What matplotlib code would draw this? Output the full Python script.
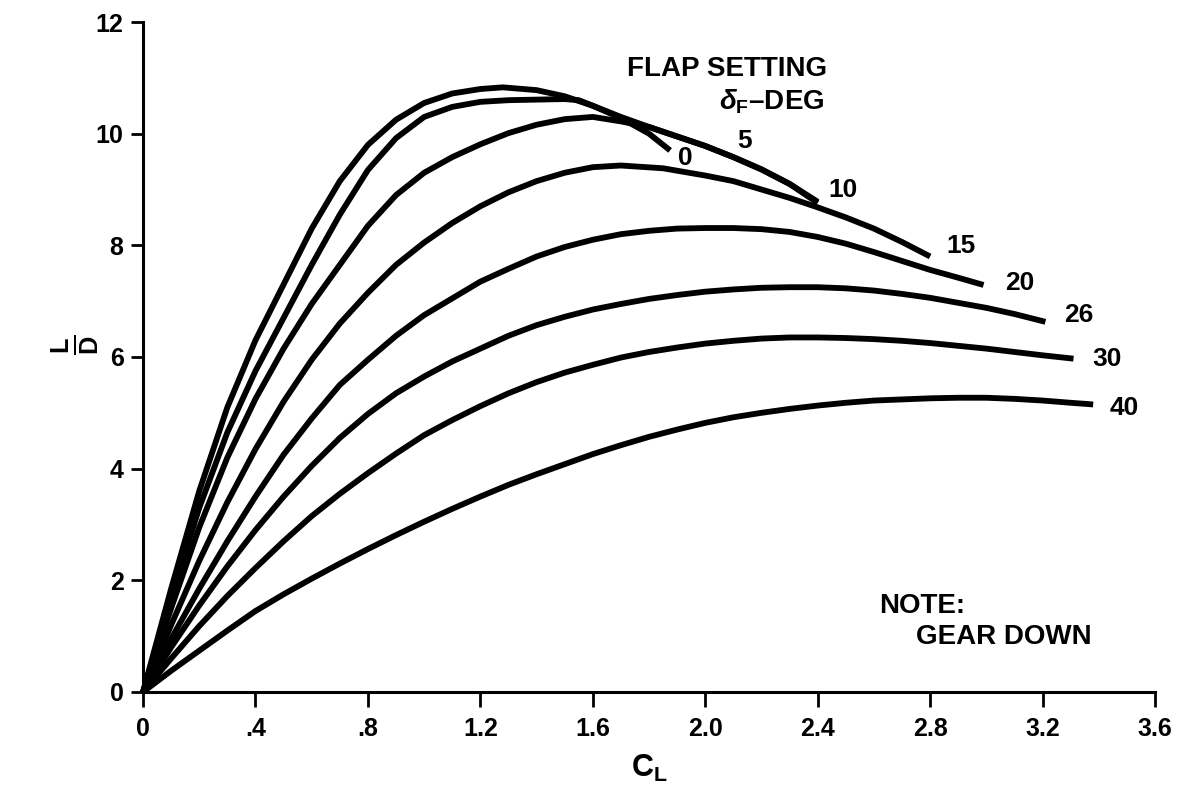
import matplotlib
matplotlib.use("Agg")
import matplotlib.pyplot as plt

plt.rcParams["font.family"] = ["Liberation Sans", "DejaVu Sans"]
plt.rcParams["font.weight"] = "bold"
plt.rcParams["mathtext.fontset"] = "custom"
plt.rcParams["mathtext.rm"] = "Liberation Sans:bold"
plt.rcParams["mathtext.it"] = "Liberation Sans:bold:italic"
plt.rcParams["mathtext.bf"] = "Liberation Sans:bold"

# L/D vs C_L, one curve per flap setting (deg)
cl_0 = [0, .1, .2, .3, .4, .5, .6, .7, .8, .9, 1.0, 1.1, 1.2, 1.28, 1.4, 1.5, 1.6, 1.7, 1.8, 1.875]
ld_0 = [0, 1.85, 3.6, 5.1, 6.3, 7.3, 8.3, 9.15, 9.8, 10.25, 10.55, 10.72, 10.8, 10.83, 10.78, 10.67, 10.5,
        10.28, 10.0, 9.7]

cl_5 = [0, .1, .2, .3, .4, .5, .6, .7, .8, .9, 1.0, 1.1, 1.2, 1.3, 1.4, 1.5, 1.55, 1.6, 1.7, 1.8,
        1.9, 2.0, 2.1, 2.2, 2.3, 2.4]
ld_5 = [0, 1.7, 3.3, 4.65, 5.75, 6.7, 7.65, 8.55, 9.35, 9.92, 10.3, 10.48, 10.57, 10.6, 10.61, 10.62, 10.6,
        10.5, 10.3, 10.12, 9.95, 9.78, 9.58, 9.36, 9.1, 8.78]

cl_10 = [0, .1, .2, .3, .4, .5, .6, .7, .8, .9, 1.0, 1.1, 1.2, 1.3, 1.4, 1.5, 1.6, 1.7, 1.8,
         1.9, 2.0, 2.1, 2.2, 2.3, 2.4]
ld_10 = [0, 1.5, 2.95, 4.2, 5.25, 6.15, 6.95, 7.65, 8.35, 8.9, 9.3, 9.58, 9.81, 10.01, 10.16, 10.26, 10.3,
         10.22, 10.12, 9.95, 9.78, 9.58, 9.36, 9.1, 8.76]

cl_15 = [0, .1, .2, .3, .4, .5, .6, .7, .8, .9, 1.0, 1.1, 1.2, 1.3, 1.4, 1.5, 1.6, 1.7, 1.85, 2.0,
         2.1, 2.2, 2.3, 2.4, 2.5, 2.6, 2.7, 2.8]
ld_15 = [0, 1.2, 2.35, 3.4, 4.35, 5.2, 5.95, 6.6, 7.15, 7.65, 8.05, 8.4, 8.7, 8.95, 9.15, 9.3, 9.4, 9.43,
         9.38, 9.25, 9.15, 9.0, 8.85, 8.68, 8.5, 8.3, 8.06, 7.8]

cl_20 = [0, .1, .2, .3, .4, .5, .6, .7, .8, .9, 1.0, 1.1, 1.2, 1.3, 1.4, 1.5, 1.6, 1.7, 1.8, 1.9,
         2.0, 2.1, 2.2, 2.3, 2.4, 2.5, 2.6, 2.7, 2.8, 2.9, 2.99]
ld_20 = [0, .95, 1.85, 2.7, 3.5, 4.25, 4.9, 5.5, 5.95, 6.38, 6.75, 7.05, 7.35, 7.58, 7.8, 7.97, 8.1, 8.2,
         8.26, 8.3, 8.31, 8.31, 8.29, 8.24, 8.15, 8.03, 7.88, 7.72, 7.56, 7.42, 7.29]

cl_26 = [0, .1, .2, .3, .4, .5, .6, .7, .8, .9, 1.0, 1.1, 1.2, 1.3, 1.4, 1.5, 1.6, 1.7, 1.8, 1.9,
         2.0, 2.1, 2.2, 2.3, 2.4, 2.5, 2.6, 2.7, 2.8, 2.9, 3.0, 3.1, 3.21]
ld_26 = [0, .8, 1.55, 2.25, 2.9, 3.5, 4.05, 4.55, 4.98, 5.35, 5.65, 5.92, 6.15, 6.38, 6.57, 6.72, 6.85,
         6.95, 7.04, 7.11, 7.17, 7.21, 7.24, 7.25, 7.25, 7.23, 7.19, 7.13, 7.06, 6.97, 6.88, 6.77, 6.63]

cl_30 = [0, .1, .2, .3, .4, .5, .6, .7, .8, .9, 1.0, 1.1, 1.2, 1.3, 1.4, 1.5, 1.6, 1.7, 1.8, 1.9,
         2.0, 2.1, 2.2, 2.3, 2.4, 2.5, 2.6, 2.7, 2.8, 2.9, 3.0, 3.1, 3.2, 3.31]
ld_30 = [0, .6, 1.18, 1.72, 2.22, 2.7, 3.15, 3.55, 3.92, 4.27, 4.6, 4.87, 5.12, 5.35, 5.55, 5.72, 5.86,
         5.99, 6.09, 6.17, 6.24, 6.29, 6.33, 6.35, 6.35, 6.34, 6.32, 6.29, 6.25, 6.2, 6.15, 6.09, 6.03, 5.97]

cl_40 = [0, .1, .2, .3, .4, .5, .6, .7, .8, .9, 1.0, 1.1, 1.2, 1.3, 1.4, 1.5, 1.6, 1.7, 1.8, 1.9,
         2.0, 2.1, 2.2, 2.3, 2.4, 2.5, 2.6, 2.7, 2.8, 2.9, 3.0, 3.1, 3.2, 3.3, 3.38]
ld_40 = [0, .38, .74, 1.1, 1.45, 1.75, 2.03, 2.3, 2.56, 2.81, 3.05, 3.28, 3.5, 3.71, 3.9, 4.08, 4.26,
         4.42, 4.57, 4.7, 4.82, 4.92, 5.0, 5.07, 5.13, 5.18, 5.22, 5.24, 5.26, 5.27, 5.27, 5.25, 5.22,
         5.18, 5.15]

flap_labels = ["0", "5", "10", "15", "20", "26", "30", "40"]
label_x = [1.93, 2.14, 2.49, 2.91, 3.12, 3.33, 3.43, 3.49]
label_y = [9.57, 9.86, 9.0, 7.98, 7.32, 6.75, 5.97, 5.09]

x_ticks = [0, .4, .8, 1.2, 1.6, 2.0, 2.4, 2.8, 3.2, 3.6]
x_tick_labels = ["0", ".4", ".8", "1.2", "1.6", "2.0", "2.4", "2.8", "3.2", "3.6"]
y_ticks = [0, 2, 4, 6, 8, 10, 12]

curves = [(cl_0, ld_0), (cl_5, ld_5), (cl_10, ld_10), (cl_15, ld_15),
          (cl_20, ld_20), (cl_26, ld_26), (cl_30, ld_30), (cl_40, ld_40)]

fig = plt.figure(figsize=(11.9, 7.95), dpi=100)
ax = fig.add_axes([0.1202, 0.1296, 0.8504, 0.8427])

for cl, ld in curves:
    ax.plot(cl, ld, color="black", lw=4.2, solid_capstyle="butt",
            solid_joinstyle="round", clip_on=False)

for lab, lx, ly in zip(flap_labels, label_x, label_y):
    ax.text(lx, ly, lab, fontsize=19, fontweight="bold", ha="center", va="center")

ax.text(1.72, 11.16, "FLAP SETTING", fontsize=20, fontweight="bold", ha="left", va="center")
ax.text(2.05, 10.58, r"$\delta_\mathrm{F}$" + "\u2013DEG", fontsize=20, fontweight="bold",
        ha="left", va="center")
ax.text(2.62, 1.54, "NOTE:", fontsize=20, fontweight="bold", ha="left", va="center")
ax.text(2.75, 0.98, "GEAR DOWN", fontsize=20, fontweight="bold", ha="left", va="center")

ax.set_xlim(0, 3.6)
ax.set_ylim(0, 12)
ax.set_xticks(x_ticks)
ax.set_xticklabels(x_tick_labels)
ax.set_yticks(y_ticks)

for side in ["top", "right"]:
    ax.spines[side].set_visible(False)
for side in ["left", "bottom"]:
    ax.spines[side].set_linewidth(2.2)

ax.tick_params(axis="both", direction="out", width=2, labelsize=18, colors="black")
ax.tick_params(axis="x", length=11, pad=7)
ax.tick_params(axis="y", length=9, pad=5)
for lbl in ax.get_xticklabels() + ax.get_yticklabels():
    lbl.set_fontweight("bold")

fig.text(75 / 1190, 1 - 345 / 795, r"$\frac{\mathrm{L}}{\mathrm{D}}$", fontsize=26,
         rotation=90, ha="center", va="center")
fig.text(649 / 1190, 1 - 768 / 795, r"$\mathrm{C_L}$", fontsize=22, ha="center", va="center")

fig.savefig("out.png", dpi=100)
